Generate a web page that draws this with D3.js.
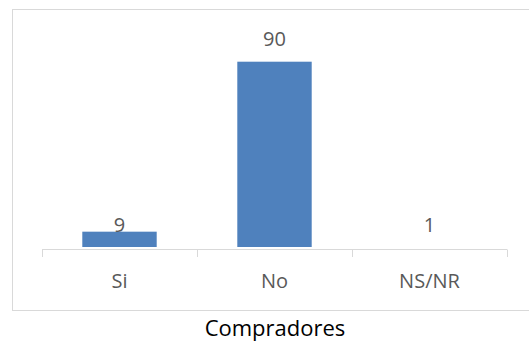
<!DOCTYPE html>
<html>
<head>
<meta charset="utf-8">
<script src="https://cdn.jsdelivr.net/npm/d3@7"></script>
<style>
  body { margin: 0; background: #fff; }
  text { font-family: "Open Sans", sans-serif; fill: #595959; }
</style>
</head>
<body>
<svg width="529" height="345"></svg>
<script>
var categories = ["Si", "No", "NS/NR"];
var values = [9, 90, 1];
var title = "Compradores";

var svg = d3.select("svg");

// chart frame (right edge runs off the picture)
svg.append("rect")
    .attr("x", 12.5).attr("y", 9.5)
    .attr("width", 540).attr("height", 301)
    .attr("fill", "none")
    .attr("stroke", "#d9d9d9");

var x = d3.scaleBand()
    .domain(categories)
    .range([42, 507])
    .paddingInner(0.52)
    .paddingOuter(0.26);

// value axis does not start at zero in the original, so the NS/NR bar is hidden
var yMin = 1.7;
var y = d3.scaleLinear()
    .domain([yMin, 90])
    .range([247, 61.7]);

var g = svg.append("g");

g.selectAll("rect.bar")
    .data(values)
    .enter()
    .append("rect")
    .attr("class", "bar")
    .attr("x", (d, i) => x(categories[i]))
    .attr("y", (d) => Math.min(y(d), y(yMin)))
    .attr("width", x.bandwidth())
    .attr("height", (d) => Math.max(0, y(yMin) - y(d)))
    .attr("fill", "#4f81bd");

// axis line and ticks
var step = (507 - 42) / categories.length;
svg.append("line")
    .attr("x1", 42).attr("x2", 507)
    .attr("y1", 249.5).attr("y2", 249.5)
    .attr("stroke", "#d9d9d9");
d3.range(categories.length + 1).forEach((i) => {
    var tx = Math.round(42 + i * step) + 0.5;
    svg.append("line")
        .attr("x1", tx).attr("x2", tx)
        .attr("y1", 249.5).attr("y2", 257)
        .attr("stroke", "#d9d9d9");
});

// category labels
g.selectAll("text.cat")
    .data(categories)
    .enter()
    .append("text")
    .attr("class", "cat")
    .attr("x", (d) => x(d) + x.bandwidth() / 2)
    .attr("y", 288)
    .attr("text-anchor", "middle")
    .style("font-size", "20px")
    .text((d) => d);

// value labels; short bars share one row just above the axis
g.selectAll("text.val")
    .data(values)
    .enter()
    .append("text")
    .attr("class", "val")
    .attr("x", (d, i) => x(categories[i]) + x.bandwidth() / 2)
    .attr("y", (d) => d < 10 ? y(yMin) - 15 : y(d) - 15.5)
    .attr("text-anchor", "middle")
    .style("font-size", "20px")
    .text((d) => d);

svg.append("text")
    .attr("x", 275)
    .attr("y", 336)
    .attr("text-anchor", "middle")
    .style("font-size", "22px")
    .style("fill", "#000")
    .text(title);
</script>
</body>
</html>
